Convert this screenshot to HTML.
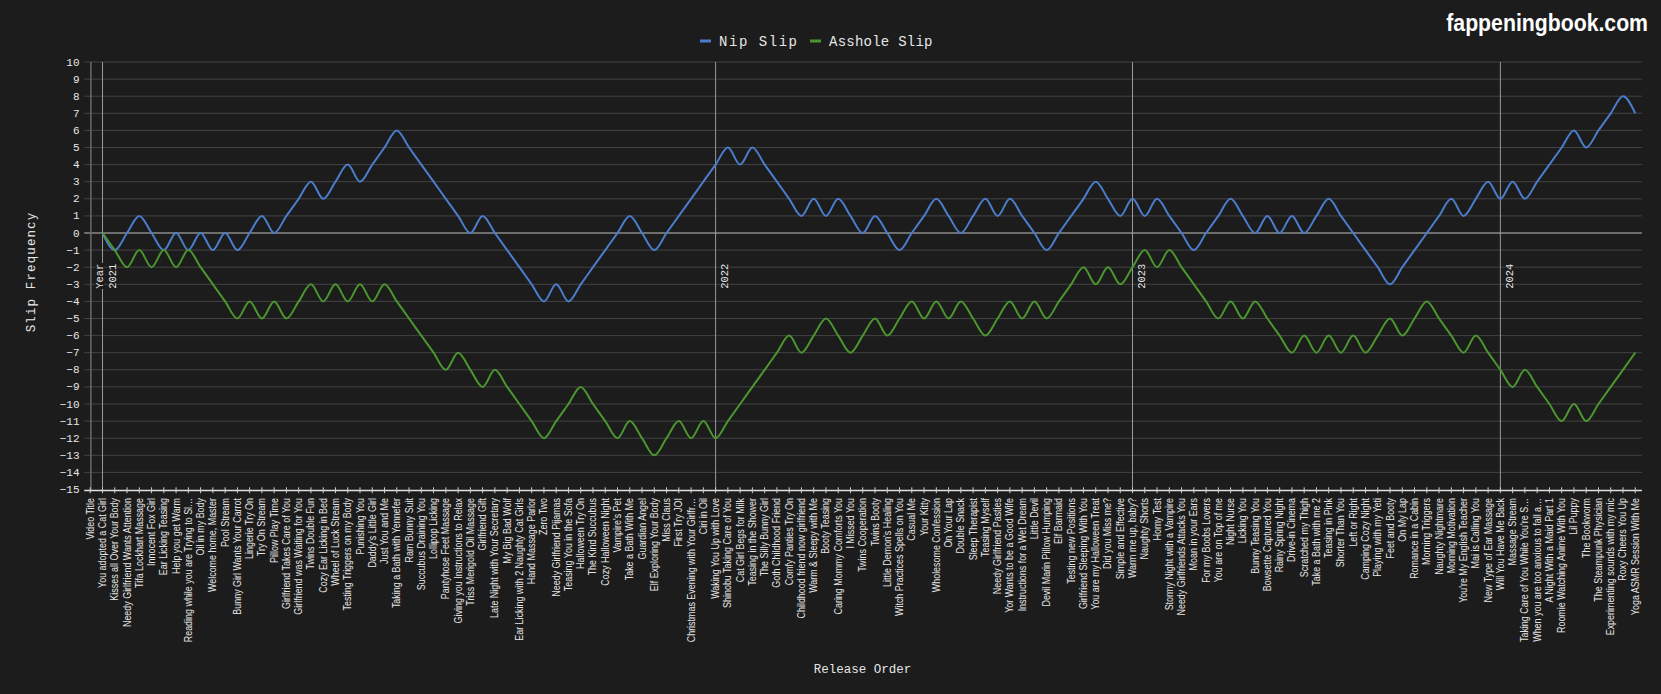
<!DOCTYPE html>
<html><head><meta charset="utf-8"><style>
html,body{margin:0;padding:0;background:#1c1c1c;}
body{width:1661px;height:694px;overflow:hidden;}
svg{display:block;}
.yl{font-family:"Liberation Mono",monospace;font-size:11px;fill:#e6e6e6;}
.yr{font-family:"Liberation Mono",monospace;font-size:10.4px;fill:#e6e6e6;stroke:#1c1c1c;stroke-width:2.5px;paint-order:stroke;}
.xl{font-family:"Liberation Sans",sans-serif;font-size:10px;fill:#e6e6e6;}
.at{font-family:"Liberation Mono",monospace;font-size:13px;fill:#e6e6e6;}
.lg{font-family:"Liberation Mono",monospace;font-size:14px;fill:#e6e6e6;}
.wm{font-family:"Liberation Sans",sans-serif;font-size:23px;font-weight:bold;fill:#ffffff;}
</style></head><body><svg width="1661" height="694" viewBox="0 0 1661 694">
<rect x="0" y="0" width="1661" height="694" fill="#1c1c1c"/>
<line x1="84.2" x2="1641.9" y1="472.40" y2="472.40" stroke="#434343" stroke-width="1"/>
<line x1="84.2" x2="1641.9" y1="455.30" y2="455.30" stroke="#434343" stroke-width="1"/>
<line x1="84.2" x2="1641.9" y1="438.20" y2="438.20" stroke="#434343" stroke-width="1"/>
<line x1="84.2" x2="1641.9" y1="421.10" y2="421.10" stroke="#434343" stroke-width="1"/>
<line x1="84.2" x2="1641.9" y1="404.00" y2="404.00" stroke="#434343" stroke-width="1"/>
<line x1="84.2" x2="1641.9" y1="386.90" y2="386.90" stroke="#434343" stroke-width="1"/>
<line x1="84.2" x2="1641.9" y1="369.80" y2="369.80" stroke="#434343" stroke-width="1"/>
<line x1="84.2" x2="1641.9" y1="352.70" y2="352.70" stroke="#434343" stroke-width="1"/>
<line x1="84.2" x2="1641.9" y1="335.60" y2="335.60" stroke="#434343" stroke-width="1"/>
<line x1="84.2" x2="1641.9" y1="318.50" y2="318.50" stroke="#434343" stroke-width="1"/>
<line x1="84.2" x2="1641.9" y1="301.40" y2="301.40" stroke="#434343" stroke-width="1"/>
<line x1="84.2" x2="1641.9" y1="284.30" y2="284.30" stroke="#434343" stroke-width="1"/>
<line x1="84.2" x2="1641.9" y1="267.20" y2="267.20" stroke="#434343" stroke-width="1"/>
<line x1="84.2" x2="1641.9" y1="250.10" y2="250.10" stroke="#434343" stroke-width="1"/>
<line x1="84.2" x2="1641.9" y1="233.00" y2="233.00" stroke="#8a8a8a" stroke-width="1.5"/>
<line x1="84.2" x2="1641.9" y1="215.90" y2="215.90" stroke="#434343" stroke-width="1"/>
<line x1="84.2" x2="1641.9" y1="198.80" y2="198.80" stroke="#434343" stroke-width="1"/>
<line x1="84.2" x2="1641.9" y1="181.70" y2="181.70" stroke="#434343" stroke-width="1"/>
<line x1="84.2" x2="1641.9" y1="164.60" y2="164.60" stroke="#434343" stroke-width="1"/>
<line x1="84.2" x2="1641.9" y1="147.50" y2="147.50" stroke="#434343" stroke-width="1"/>
<line x1="84.2" x2="1641.9" y1="130.40" y2="130.40" stroke="#434343" stroke-width="1"/>
<line x1="84.2" x2="1641.9" y1="113.30" y2="113.30" stroke="#434343" stroke-width="1"/>
<line x1="84.2" x2="1641.9" y1="96.20" y2="96.20" stroke="#434343" stroke-width="1"/>
<line x1="84.2" x2="1641.9" y1="79.10" y2="79.10" stroke="#434343" stroke-width="1"/>
<line x1="84.2" x2="1641.9" y1="62.00" y2="62.00" stroke="#434343" stroke-width="1"/>
<text x="79.5" y="489.50" dy="0.32em" text-anchor="end" class="yl">−15</text>
<text x="79.5" y="472.40" dy="0.32em" text-anchor="end" class="yl">−14</text>
<text x="79.5" y="455.30" dy="0.32em" text-anchor="end" class="yl">−13</text>
<text x="79.5" y="438.20" dy="0.32em" text-anchor="end" class="yl">−12</text>
<text x="79.5" y="421.10" dy="0.32em" text-anchor="end" class="yl">−11</text>
<text x="79.5" y="404.00" dy="0.32em" text-anchor="end" class="yl">−10</text>
<text x="79.5" y="386.90" dy="0.32em" text-anchor="end" class="yl">−9</text>
<text x="79.5" y="369.80" dy="0.32em" text-anchor="end" class="yl">−8</text>
<text x="79.5" y="352.70" dy="0.32em" text-anchor="end" class="yl">−7</text>
<text x="79.5" y="335.60" dy="0.32em" text-anchor="end" class="yl">−6</text>
<text x="79.5" y="318.50" dy="0.32em" text-anchor="end" class="yl">−5</text>
<text x="79.5" y="301.40" dy="0.32em" text-anchor="end" class="yl">−4</text>
<text x="79.5" y="284.30" dy="0.32em" text-anchor="end" class="yl">−3</text>
<text x="79.5" y="267.20" dy="0.32em" text-anchor="end" class="yl">−2</text>
<text x="79.5" y="250.10" dy="0.32em" text-anchor="end" class="yl">−1</text>
<text x="79.5" y="233.00" dy="0.32em" text-anchor="end" class="yl">0</text>
<text x="79.5" y="215.90" dy="0.32em" text-anchor="end" class="yl">1</text>
<text x="79.5" y="198.80" dy="0.32em" text-anchor="end" class="yl">2</text>
<text x="79.5" y="181.70" dy="0.32em" text-anchor="end" class="yl">3</text>
<text x="79.5" y="164.60" dy="0.32em" text-anchor="end" class="yl">4</text>
<text x="79.5" y="147.50" dy="0.32em" text-anchor="end" class="yl">5</text>
<text x="79.5" y="130.40" dy="0.32em" text-anchor="end" class="yl">6</text>
<text x="79.5" y="113.30" dy="0.32em" text-anchor="end" class="yl">7</text>
<text x="79.5" y="96.20" dy="0.32em" text-anchor="end" class="yl">8</text>
<text x="79.5" y="79.10" dy="0.32em" text-anchor="end" class="yl">9</text>
<text x="79.5" y="62.00" dy="0.32em" text-anchor="end" class="yl">10</text>
<line x1="90.9" x2="90.9" y1="62.0" y2="490.4" stroke="#6a6a6a" stroke-width="1.5"/>
<line x1="102.50" x2="102.50" y1="62.0" y2="490.4" stroke="#9a9a9a" stroke-width="1"/>
<line x1="715.60" x2="715.60" y1="62.0" y2="490.4" stroke="#9a9a9a" stroke-width="1"/>
<line x1="1132.51" x2="1132.51" y1="62.0" y2="490.4" stroke="#9a9a9a" stroke-width="1"/>
<line x1="1500.37" x2="1500.37" y1="62.0" y2="490.4" stroke="#9a9a9a" stroke-width="1"/>
<path d="M102.50,233.00C106.59,241.55,110.67,250.10,114.76,250.10C118.85,250.10,122.94,238.70,127.02,233.00C131.11,227.30,135.20,215.90,139.29,215.90C143.37,215.90,147.46,227.30,151.55,233.00C155.64,238.70,159.72,250.10,163.81,250.10C167.90,250.10,171.98,233.00,176.07,233.00C180.16,233.00,184.25,250.10,188.33,250.10C192.42,250.10,196.51,233.00,200.60,233.00C204.68,233.00,208.77,250.10,212.86,250.10C216.95,250.10,221.03,233.00,225.12,233.00C229.21,233.00,233.29,250.10,237.38,250.10C241.47,250.10,245.56,238.70,249.64,233.00C253.73,227.30,257.82,215.90,261.91,215.90C265.99,215.90,270.08,233.00,274.17,233.00C278.26,233.00,282.34,221.60,286.43,215.90C290.52,210.20,294.60,204.50,298.69,198.80C302.78,193.10,306.87,181.70,310.95,181.70C315.04,181.70,319.13,198.80,323.22,198.80C327.30,198.80,331.39,187.40,335.48,181.70C339.57,176.00,343.65,164.60,347.74,164.60C351.83,164.60,355.91,181.70,360.00,181.70C364.09,181.70,368.18,170.30,372.26,164.60C376.35,158.90,380.44,153.20,384.53,147.50C388.61,141.80,392.70,130.40,396.79,130.40C400.88,130.40,404.96,141.80,409.05,147.50C413.14,153.20,417.22,158.90,421.31,164.60C425.40,170.30,429.49,176.00,433.57,181.70C437.66,187.40,441.75,193.10,445.84,198.80C449.92,204.50,454.01,210.20,458.10,215.90C462.19,221.60,466.27,233.00,470.36,233.00C474.45,233.00,478.53,215.90,482.62,215.90C486.71,215.90,490.80,227.30,494.88,233.00C498.97,238.70,503.06,244.40,507.15,250.10C511.23,255.80,515.32,261.50,519.41,267.20C523.50,272.90,527.58,278.60,531.67,284.30C535.76,290.00,539.84,301.40,543.93,301.40C548.02,301.40,552.11,284.30,556.19,284.30C560.28,284.30,564.37,301.40,568.46,301.40C572.54,301.40,576.63,290.00,580.72,284.30C584.81,278.60,588.89,272.90,592.98,267.20C597.07,261.50,601.15,255.80,605.24,250.10C609.33,244.40,613.42,238.70,617.50,233.00C621.59,227.30,625.68,215.90,629.77,215.90C633.85,215.90,637.94,227.30,642.03,233.00C646.12,238.70,650.20,250.10,654.29,250.10C658.38,250.10,662.46,238.70,666.55,233.00C670.64,227.30,674.73,221.60,678.81,215.90C682.90,210.20,686.99,204.50,691.08,198.80C695.16,193.10,699.25,187.40,703.34,181.70C707.43,176.00,711.51,170.30,715.60,164.60C719.69,158.90,723.77,147.50,727.86,147.50C731.95,147.50,736.04,164.60,740.12,164.60C744.21,164.60,748.30,147.50,752.39,147.50C756.47,147.50,760.56,158.90,764.65,164.60C768.74,170.30,772.82,176.00,776.91,181.70C781.00,187.40,785.08,193.10,789.17,198.80C793.26,204.50,797.35,215.90,801.43,215.90C805.52,215.90,809.61,198.80,813.70,198.80C817.78,198.80,821.87,215.90,825.96,215.90C830.05,215.90,834.13,198.80,838.22,198.80C842.31,198.80,846.39,210.20,850.48,215.90C854.57,221.60,858.66,233.00,862.74,233.00C866.83,233.00,870.92,215.90,875.01,215.90C879.09,215.90,883.18,227.30,887.27,233.00C891.36,238.70,895.44,250.10,899.53,250.10C903.62,250.10,907.70,238.70,911.79,233.00C915.88,227.30,919.97,221.60,924.05,215.90C928.14,210.20,932.23,198.80,936.32,198.80C940.40,198.80,944.49,210.20,948.58,215.90C952.67,221.60,956.75,233.00,960.84,233.00C964.93,233.00,969.01,221.60,973.10,215.90C977.19,210.20,981.28,198.80,985.36,198.80C989.45,198.80,993.54,215.90,997.63,215.90C1001.71,215.90,1005.80,198.80,1009.89,198.80C1013.98,198.80,1018.06,210.20,1022.15,215.90C1026.24,221.60,1030.32,227.30,1034.41,233.00C1038.50,238.70,1042.59,250.10,1046.67,250.10C1050.76,250.10,1054.85,238.70,1058.94,233.00C1063.02,227.30,1067.11,221.60,1071.20,215.90C1075.29,210.20,1079.37,204.50,1083.46,198.80C1087.55,193.10,1091.63,181.70,1095.72,181.70C1099.81,181.70,1103.90,193.10,1107.98,198.80C1112.07,204.50,1116.16,215.90,1120.25,215.90C1124.33,215.90,1128.42,198.80,1132.51,198.80C1136.60,198.80,1140.68,215.90,1144.77,215.90C1148.86,215.90,1152.94,198.80,1157.03,198.80C1161.12,198.80,1165.21,210.20,1169.29,215.90C1173.38,221.60,1177.47,227.30,1181.56,233.00C1185.64,238.70,1189.73,250.10,1193.82,250.10C1197.91,250.10,1201.99,238.70,1206.08,233.00C1210.17,227.30,1214.25,221.60,1218.34,215.90C1222.43,210.20,1226.52,198.80,1230.60,198.80C1234.69,198.80,1238.78,210.20,1242.87,215.90C1246.95,221.60,1251.04,233.00,1255.13,233.00C1259.22,233.00,1263.30,215.90,1267.39,215.90C1271.48,215.90,1275.56,233.00,1279.65,233.00C1283.74,233.00,1287.83,215.90,1291.91,215.90C1296.00,215.90,1300.09,233.00,1304.18,233.00C1308.26,233.00,1312.35,221.60,1316.44,215.90C1320.53,210.20,1324.61,198.80,1328.70,198.80C1332.79,198.80,1336.87,210.20,1340.96,215.90C1345.05,221.60,1349.14,227.30,1353.22,233.00C1357.31,238.70,1361.40,244.40,1365.49,250.10C1369.57,255.80,1373.66,261.50,1377.75,267.20C1381.84,272.90,1385.92,284.30,1390.01,284.30C1394.10,284.30,1398.18,272.90,1402.27,267.20C1406.36,261.50,1410.45,255.80,1414.53,250.10C1418.62,244.40,1422.71,238.70,1426.80,233.00C1430.88,227.30,1434.97,221.60,1439.06,215.90C1443.15,210.20,1447.23,198.80,1451.32,198.80C1455.41,198.80,1459.49,215.90,1463.58,215.90C1467.67,215.90,1471.76,204.50,1475.84,198.80C1479.93,193.10,1484.02,181.70,1488.11,181.70C1492.19,181.70,1496.28,198.80,1500.37,198.80C1504.46,198.80,1508.54,181.70,1512.63,181.70C1516.72,181.70,1520.80,198.80,1524.89,198.80C1528.98,198.80,1533.07,187.40,1537.15,181.70C1541.24,176.00,1545.33,170.30,1549.42,164.60C1553.50,158.90,1557.59,153.20,1561.68,147.50C1565.77,141.80,1569.85,130.40,1573.94,130.40C1578.03,130.40,1582.11,147.50,1586.20,147.50C1590.29,147.50,1594.38,136.10,1598.46,130.40C1602.55,124.70,1606.64,119.00,1610.73,113.30C1614.81,107.60,1618.90,96.20,1622.99,96.20C1627.08,96.20,1631.16,104.75,1635.25,113.30" fill="none" stroke="#4a7dcb" stroke-width="2"/>
<path d="M102.50,233.00C106.59,238.70,110.67,244.40,114.76,250.10C118.85,255.80,122.94,267.20,127.02,267.20C131.11,267.20,135.20,250.10,139.29,250.10C143.37,250.10,147.46,267.20,151.55,267.20C155.64,267.20,159.72,250.10,163.81,250.10C167.90,250.10,171.98,267.20,176.07,267.20C180.16,267.20,184.25,250.10,188.33,250.10C192.42,250.10,196.51,261.50,200.60,267.20C204.68,272.90,208.77,278.60,212.86,284.30C216.95,290.00,221.03,295.70,225.12,301.40C229.21,307.10,233.29,318.50,237.38,318.50C241.47,318.50,245.56,301.40,249.64,301.40C253.73,301.40,257.82,318.50,261.91,318.50C265.99,318.50,270.08,301.40,274.17,301.40C278.26,301.40,282.34,318.50,286.43,318.50C290.52,318.50,294.60,307.10,298.69,301.40C302.78,295.70,306.87,284.30,310.95,284.30C315.04,284.30,319.13,301.40,323.22,301.40C327.30,301.40,331.39,284.30,335.48,284.30C339.57,284.30,343.65,301.40,347.74,301.40C351.83,301.40,355.91,284.30,360.00,284.30C364.09,284.30,368.18,301.40,372.26,301.40C376.35,301.40,380.44,284.30,384.53,284.30C388.61,284.30,392.70,295.70,396.79,301.40C400.88,307.10,404.96,312.80,409.05,318.50C413.14,324.20,417.22,329.90,421.31,335.60C425.40,341.30,429.49,347.00,433.57,352.70C437.66,358.40,441.75,369.80,445.84,369.80C449.92,369.80,454.01,352.70,458.10,352.70C462.19,352.70,466.27,364.10,470.36,369.80C474.45,375.50,478.53,386.90,482.62,386.90C486.71,386.90,490.80,369.80,494.88,369.80C498.97,369.80,503.06,381.20,507.15,386.90C511.23,392.60,515.32,398.30,519.41,404.00C523.50,409.70,527.58,415.40,531.67,421.10C535.76,426.80,539.84,438.20,543.93,438.20C548.02,438.20,552.11,426.80,556.19,421.10C560.28,415.40,564.37,409.70,568.46,404.00C572.54,398.30,576.63,386.90,580.72,386.90C584.81,386.90,588.89,398.30,592.98,404.00C597.07,409.70,601.15,415.40,605.24,421.10C609.33,426.80,613.42,438.20,617.50,438.20C621.59,438.20,625.68,421.10,629.77,421.10C633.85,421.10,637.94,432.50,642.03,438.20C646.12,443.90,650.20,455.30,654.29,455.30C658.38,455.30,662.46,443.90,666.55,438.20C670.64,432.50,674.73,421.10,678.81,421.10C682.90,421.10,686.99,438.20,691.08,438.20C695.16,438.20,699.25,421.10,703.34,421.10C707.43,421.10,711.51,438.20,715.60,438.20C719.69,438.20,723.77,426.80,727.86,421.10C731.95,415.40,736.04,409.70,740.12,404.00C744.21,398.30,748.30,392.60,752.39,386.90C756.47,381.20,760.56,375.50,764.65,369.80C768.74,364.10,772.82,358.40,776.91,352.70C781.00,347.00,785.08,335.60,789.17,335.60C793.26,335.60,797.35,352.70,801.43,352.70C805.52,352.70,809.61,341.30,813.70,335.60C817.78,329.90,821.87,318.50,825.96,318.50C830.05,318.50,834.13,329.90,838.22,335.60C842.31,341.30,846.39,352.70,850.48,352.70C854.57,352.70,858.66,341.30,862.74,335.60C866.83,329.90,870.92,318.50,875.01,318.50C879.09,318.50,883.18,335.60,887.27,335.60C891.36,335.60,895.44,324.20,899.53,318.50C903.62,312.80,907.70,301.40,911.79,301.40C915.88,301.40,919.97,318.50,924.05,318.50C928.14,318.50,932.23,301.40,936.32,301.40C940.40,301.40,944.49,318.50,948.58,318.50C952.67,318.50,956.75,301.40,960.84,301.40C964.93,301.40,969.01,312.80,973.10,318.50C977.19,324.20,981.28,335.60,985.36,335.60C989.45,335.60,993.54,324.20,997.63,318.50C1001.71,312.80,1005.80,301.40,1009.89,301.40C1013.98,301.40,1018.06,318.50,1022.15,318.50C1026.24,318.50,1030.32,301.40,1034.41,301.40C1038.50,301.40,1042.59,318.50,1046.67,318.50C1050.76,318.50,1054.85,307.10,1058.94,301.40C1063.02,295.70,1067.11,290.00,1071.20,284.30C1075.29,278.60,1079.37,267.20,1083.46,267.20C1087.55,267.20,1091.63,284.30,1095.72,284.30C1099.81,284.30,1103.90,267.20,1107.98,267.20C1112.07,267.20,1116.16,284.30,1120.25,284.30C1124.33,284.30,1128.42,272.90,1132.51,267.20C1136.60,261.50,1140.68,250.10,1144.77,250.10C1148.86,250.10,1152.94,267.20,1157.03,267.20C1161.12,267.20,1165.21,250.10,1169.29,250.10C1173.38,250.10,1177.47,261.50,1181.56,267.20C1185.64,272.90,1189.73,278.60,1193.82,284.30C1197.91,290.00,1201.99,295.70,1206.08,301.40C1210.17,307.10,1214.25,318.50,1218.34,318.50C1222.43,318.50,1226.52,301.40,1230.60,301.40C1234.69,301.40,1238.78,318.50,1242.87,318.50C1246.95,318.50,1251.04,301.40,1255.13,301.40C1259.22,301.40,1263.30,312.80,1267.39,318.50C1271.48,324.20,1275.56,329.90,1279.65,335.60C1283.74,341.30,1287.83,352.70,1291.91,352.70C1296.00,352.70,1300.09,335.60,1304.18,335.60C1308.26,335.60,1312.35,352.70,1316.44,352.70C1320.53,352.70,1324.61,335.60,1328.70,335.60C1332.79,335.60,1336.87,352.70,1340.96,352.70C1345.05,352.70,1349.14,335.60,1353.22,335.60C1357.31,335.60,1361.40,352.70,1365.49,352.70C1369.57,352.70,1373.66,341.30,1377.75,335.60C1381.84,329.90,1385.92,318.50,1390.01,318.50C1394.10,318.50,1398.18,335.60,1402.27,335.60C1406.36,335.60,1410.45,324.20,1414.53,318.50C1418.62,312.80,1422.71,301.40,1426.80,301.40C1430.88,301.40,1434.97,312.80,1439.06,318.50C1443.15,324.20,1447.23,329.90,1451.32,335.60C1455.41,341.30,1459.49,352.70,1463.58,352.70C1467.67,352.70,1471.76,335.60,1475.84,335.60C1479.93,335.60,1484.02,347.00,1488.11,352.70C1492.19,358.40,1496.28,364.10,1500.37,369.80C1504.46,375.50,1508.54,386.90,1512.63,386.90C1516.72,386.90,1520.80,369.80,1524.89,369.80C1528.98,369.80,1533.07,381.20,1537.15,386.90C1541.24,392.60,1545.33,398.30,1549.42,404.00C1553.50,409.70,1557.59,421.10,1561.68,421.10C1565.77,421.10,1569.85,404.00,1573.94,404.00C1578.03,404.00,1582.11,421.10,1586.20,421.10C1590.29,421.10,1594.38,409.70,1598.46,404.00C1602.55,398.30,1606.64,392.60,1610.73,386.90C1614.81,381.20,1618.90,375.50,1622.99,369.80C1627.08,364.10,1631.16,358.40,1635.25,352.70" fill="none" stroke="#4b962e" stroke-width="2"/>
<rect x="101.30" y="263" width="2.4" height="26" fill="#1c1c1c"/>
<text transform="translate(102.80,263.8) rotate(-90)" text-anchor="end" class="yr">Year</text>
<text transform="translate(116.30,263.8) rotate(-90)" text-anchor="end" class="yr">2021</text>
<text transform="translate(727.90,263.8) rotate(-90)" text-anchor="end" class="yr">2022</text>
<text transform="translate(1144.81,263.8) rotate(-90)" text-anchor="end" class="yr">2023</text>
<text transform="translate(1512.67,263.8) rotate(-90)" text-anchor="end" class="yr">2024</text>
<line x1="84.2" x2="1641.9" y1="490.4" y2="490.4" stroke="#e0e0e0" stroke-width="1.5"/>
<line x1="90.24" x2="90.24" y1="487.3" y2="493.2" stroke="#d0d0d0" stroke-width="1"/>
<text transform="translate(93.74,498) rotate(-90) scale(0.893,1)" text-anchor="end" class="xl">Video Title</text>
<line x1="102.50" x2="102.50" y1="487.3" y2="493.2" stroke="#d0d0d0" stroke-width="1"/>
<text transform="translate(106.00,498) rotate(-90) scale(0.893,1)" text-anchor="end" class="xl">You adopted a Cat Girl</text>
<line x1="114.76" x2="114.76" y1="487.3" y2="493.2" stroke="#d0d0d0" stroke-width="1"/>
<text transform="translate(118.26,498) rotate(-90) scale(0.893,1)" text-anchor="end" class="xl">Kisses all Over Your Body</text>
<line x1="127.02" x2="127.02" y1="487.3" y2="493.2" stroke="#d0d0d0" stroke-width="1"/>
<text transform="translate(130.52,498) rotate(-90) scale(0.893,1)" text-anchor="end" class="xl">Needy Girlfriend Wants Attention</text>
<line x1="139.29" x2="139.29" y1="487.3" y2="493.2" stroke="#d0d0d0" stroke-width="1"/>
<text transform="translate(142.79,498) rotate(-90) scale(0.893,1)" text-anchor="end" class="xl">Tifa Lockhart Massage</text>
<line x1="151.55" x2="151.55" y1="487.3" y2="493.2" stroke="#d0d0d0" stroke-width="1"/>
<text transform="translate(155.05,498) rotate(-90) scale(0.893,1)" text-anchor="end" class="xl">Innocent Fox Girl</text>
<line x1="163.81" x2="163.81" y1="487.3" y2="493.2" stroke="#d0d0d0" stroke-width="1"/>
<text transform="translate(167.31,498) rotate(-90) scale(0.893,1)" text-anchor="end" class="xl">Ear Licking Teasing</text>
<line x1="176.07" x2="176.07" y1="487.3" y2="493.2" stroke="#d0d0d0" stroke-width="1"/>
<text transform="translate(179.57,498) rotate(-90) scale(0.893,1)" text-anchor="end" class="xl">Help you get Warm</text>
<line x1="188.33" x2="188.33" y1="487.3" y2="493.2" stroke="#d0d0d0" stroke-width="1"/>
<text transform="translate(191.83,498) rotate(-90) scale(0.893,1)" text-anchor="end" class="xl">Reading while you are Trying to Sl…</text>
<line x1="200.60" x2="200.60" y1="487.3" y2="493.2" stroke="#d0d0d0" stroke-width="1"/>
<text transform="translate(204.10,498) rotate(-90) scale(0.893,1)" text-anchor="end" class="xl">Oil in my Body</text>
<line x1="212.86" x2="212.86" y1="487.3" y2="493.2" stroke="#d0d0d0" stroke-width="1"/>
<text transform="translate(216.36,498) rotate(-90) scale(0.893,1)" text-anchor="end" class="xl">Welcome home, Master</text>
<line x1="225.12" x2="225.12" y1="487.3" y2="493.2" stroke="#d0d0d0" stroke-width="1"/>
<text transform="translate(228.62,498) rotate(-90) scale(0.893,1)" text-anchor="end" class="xl">Pool Stream</text>
<line x1="237.38" x2="237.38" y1="487.3" y2="493.2" stroke="#d0d0d0" stroke-width="1"/>
<text transform="translate(240.88,498) rotate(-90) scale(0.893,1)" text-anchor="end" class="xl">Bunny Girl Wants Your Carrot</text>
<line x1="249.64" x2="249.64" y1="487.3" y2="493.2" stroke="#d0d0d0" stroke-width="1"/>
<text transform="translate(253.14,498) rotate(-90) scale(0.893,1)" text-anchor="end" class="xl">Lingerie Try On</text>
<line x1="261.91" x2="261.91" y1="487.3" y2="493.2" stroke="#d0d0d0" stroke-width="1"/>
<text transform="translate(265.41,498) rotate(-90) scale(0.893,1)" text-anchor="end" class="xl">Try On Stream</text>
<line x1="274.17" x2="274.17" y1="487.3" y2="493.2" stroke="#d0d0d0" stroke-width="1"/>
<text transform="translate(277.67,498) rotate(-90) scale(0.893,1)" text-anchor="end" class="xl">Pillow Play Time</text>
<line x1="286.43" x2="286.43" y1="487.3" y2="493.2" stroke="#d0d0d0" stroke-width="1"/>
<text transform="translate(289.93,498) rotate(-90) scale(0.893,1)" text-anchor="end" class="xl">Girlfriend Takes Care of You</text>
<line x1="298.69" x2="298.69" y1="487.3" y2="493.2" stroke="#d0d0d0" stroke-width="1"/>
<text transform="translate(302.19,498) rotate(-90) scale(0.893,1)" text-anchor="end" class="xl">Girlfriend was Waiting for You</text>
<line x1="310.95" x2="310.95" y1="487.3" y2="493.2" stroke="#d0d0d0" stroke-width="1"/>
<text transform="translate(314.45,498) rotate(-90) scale(0.893,1)" text-anchor="end" class="xl">Twins Double Fun</text>
<line x1="323.22" x2="323.22" y1="487.3" y2="493.2" stroke="#d0d0d0" stroke-width="1"/>
<text transform="translate(326.72,498) rotate(-90) scale(0.893,1)" text-anchor="end" class="xl">Cozy Ear Licking in Bed</text>
<line x1="335.48" x2="335.48" y1="487.3" y2="493.2" stroke="#d0d0d0" stroke-width="1"/>
<text transform="translate(338.98,498) rotate(-90) scale(0.893,1)" text-anchor="end" class="xl">Wheel of Luck Stream</text>
<line x1="347.74" x2="347.74" y1="487.3" y2="493.2" stroke="#d0d0d0" stroke-width="1"/>
<text transform="translate(351.24,498) rotate(-90) scale(0.893,1)" text-anchor="end" class="xl">Testing Triggers on my Body</text>
<line x1="360.00" x2="360.00" y1="487.3" y2="493.2" stroke="#d0d0d0" stroke-width="1"/>
<text transform="translate(363.50,498) rotate(-90) scale(0.893,1)" text-anchor="end" class="xl">Punishing You</text>
<line x1="372.26" x2="372.26" y1="487.3" y2="493.2" stroke="#d0d0d0" stroke-width="1"/>
<text transform="translate(375.76,498) rotate(-90) scale(0.893,1)" text-anchor="end" class="xl">Daddy's Little Girl</text>
<line x1="384.53" x2="384.53" y1="487.3" y2="493.2" stroke="#d0d0d0" stroke-width="1"/>
<text transform="translate(388.03,498) rotate(-90) scale(0.893,1)" text-anchor="end" class="xl">Just You and Me</text>
<line x1="396.79" x2="396.79" y1="487.3" y2="493.2" stroke="#d0d0d0" stroke-width="1"/>
<text transform="translate(400.29,498) rotate(-90) scale(0.893,1)" text-anchor="end" class="xl">Taking a Bath with Yennefer</text>
<line x1="409.05" x2="409.05" y1="487.3" y2="493.2" stroke="#d0d0d0" stroke-width="1"/>
<text transform="translate(412.55,498) rotate(-90) scale(0.893,1)" text-anchor="end" class="xl">Ram Bunny Suit</text>
<line x1="421.31" x2="421.31" y1="487.3" y2="493.2" stroke="#d0d0d0" stroke-width="1"/>
<text transform="translate(424.81,498) rotate(-90) scale(0.893,1)" text-anchor="end" class="xl">Succubus Draining You</text>
<line x1="433.57" x2="433.57" y1="487.3" y2="493.2" stroke="#d0d0d0" stroke-width="1"/>
<text transform="translate(437.07,498) rotate(-90) scale(0.893,1)" text-anchor="end" class="xl">Lollipop Licking</text>
<line x1="445.84" x2="445.84" y1="487.3" y2="493.2" stroke="#d0d0d0" stroke-width="1"/>
<text transform="translate(449.34,498) rotate(-90) scale(0.893,1)" text-anchor="end" class="xl">Pantyhose Feet Massage</text>
<line x1="458.10" x2="458.10" y1="487.3" y2="493.2" stroke="#d0d0d0" stroke-width="1"/>
<text transform="translate(461.60,498) rotate(-90) scale(0.893,1)" text-anchor="end" class="xl">Giving you Instructions to Relax</text>
<line x1="470.36" x2="470.36" y1="487.3" y2="493.2" stroke="#d0d0d0" stroke-width="1"/>
<text transform="translate(473.86,498) rotate(-90) scale(0.893,1)" text-anchor="end" class="xl">Triss Merigold Oil Massage</text>
<line x1="482.62" x2="482.62" y1="487.3" y2="493.2" stroke="#d0d0d0" stroke-width="1"/>
<text transform="translate(486.12,498) rotate(-90) scale(0.893,1)" text-anchor="end" class="xl">Girlfriend Gift</text>
<line x1="494.88" x2="494.88" y1="487.3" y2="493.2" stroke="#d0d0d0" stroke-width="1"/>
<text transform="translate(498.38,498) rotate(-90) scale(0.893,1)" text-anchor="end" class="xl">Late Night with Your Secretary</text>
<line x1="507.15" x2="507.15" y1="487.3" y2="493.2" stroke="#d0d0d0" stroke-width="1"/>
<text transform="translate(510.65,498) rotate(-90) scale(0.893,1)" text-anchor="end" class="xl">My Big Bad Wolf</text>
<line x1="519.41" x2="519.41" y1="487.3" y2="493.2" stroke="#d0d0d0" stroke-width="1"/>
<text transform="translate(522.91,498) rotate(-90) scale(0.893,1)" text-anchor="end" class="xl">Ear Licking with 2 Naughty Cat Girls</text>
<line x1="531.67" x2="531.67" y1="487.3" y2="493.2" stroke="#d0d0d0" stroke-width="1"/>
<text transform="translate(535.17,498) rotate(-90) scale(0.893,1)" text-anchor="end" class="xl">Hand Massage Parlor</text>
<line x1="543.93" x2="543.93" y1="487.3" y2="493.2" stroke="#d0d0d0" stroke-width="1"/>
<text transform="translate(547.43,498) rotate(-90) scale(0.893,1)" text-anchor="end" class="xl">Zero Two</text>
<line x1="556.19" x2="556.19" y1="487.3" y2="493.2" stroke="#d0d0d0" stroke-width="1"/>
<text transform="translate(559.69,498) rotate(-90) scale(0.893,1)" text-anchor="end" class="xl">Needy Girlfriend Pijamas</text>
<line x1="568.46" x2="568.46" y1="487.3" y2="493.2" stroke="#d0d0d0" stroke-width="1"/>
<text transform="translate(571.96,498) rotate(-90) scale(0.893,1)" text-anchor="end" class="xl">Teasing You in the Sofa</text>
<line x1="580.72" x2="580.72" y1="487.3" y2="493.2" stroke="#d0d0d0" stroke-width="1"/>
<text transform="translate(584.22,498) rotate(-90) scale(0.893,1)" text-anchor="end" class="xl">Halloween Try On</text>
<line x1="592.98" x2="592.98" y1="487.3" y2="493.2" stroke="#d0d0d0" stroke-width="1"/>
<text transform="translate(596.48,498) rotate(-90) scale(0.893,1)" text-anchor="end" class="xl">The Kind Succubus</text>
<line x1="605.24" x2="605.24" y1="487.3" y2="493.2" stroke="#d0d0d0" stroke-width="1"/>
<text transform="translate(608.74,498) rotate(-90) scale(0.893,1)" text-anchor="end" class="xl">Cozy Halloween Night</text>
<line x1="617.50" x2="617.50" y1="487.3" y2="493.2" stroke="#d0d0d0" stroke-width="1"/>
<text transform="translate(621.00,498) rotate(-90) scale(0.893,1)" text-anchor="end" class="xl">Vampire's Pet</text>
<line x1="629.77" x2="629.77" y1="487.3" y2="493.2" stroke="#d0d0d0" stroke-width="1"/>
<text transform="translate(633.27,498) rotate(-90) scale(0.893,1)" text-anchor="end" class="xl">Take a Bath With Me</text>
<line x1="642.03" x2="642.03" y1="487.3" y2="493.2" stroke="#d0d0d0" stroke-width="1"/>
<text transform="translate(645.53,498) rotate(-90) scale(0.893,1)" text-anchor="end" class="xl">Guardian Angel</text>
<line x1="654.29" x2="654.29" y1="487.3" y2="493.2" stroke="#d0d0d0" stroke-width="1"/>
<text transform="translate(657.79,498) rotate(-90) scale(0.893,1)" text-anchor="end" class="xl">Elf Exploring Your Body</text>
<line x1="666.55" x2="666.55" y1="487.3" y2="493.2" stroke="#d0d0d0" stroke-width="1"/>
<text transform="translate(670.05,498) rotate(-90) scale(0.893,1)" text-anchor="end" class="xl">Miss Claus</text>
<line x1="678.81" x2="678.81" y1="487.3" y2="493.2" stroke="#d0d0d0" stroke-width="1"/>
<text transform="translate(682.31,498) rotate(-90) scale(0.893,1)" text-anchor="end" class="xl">First Try JOI</text>
<line x1="691.08" x2="691.08" y1="487.3" y2="493.2" stroke="#d0d0d0" stroke-width="1"/>
<text transform="translate(694.58,498) rotate(-90) scale(0.893,1)" text-anchor="end" class="xl">Christmas Evening with Your Girlfr…</text>
<line x1="703.34" x2="703.34" y1="487.3" y2="493.2" stroke="#d0d0d0" stroke-width="1"/>
<text transform="translate(706.84,498) rotate(-90) scale(0.893,1)" text-anchor="end" class="xl">Ciri in Oil</text>
<line x1="715.60" x2="715.60" y1="487.3" y2="493.2" stroke="#d0d0d0" stroke-width="1"/>
<text transform="translate(719.10,498) rotate(-90) scale(0.893,1)" text-anchor="end" class="xl">Waking You Up with Love</text>
<line x1="727.86" x2="727.86" y1="487.3" y2="493.2" stroke="#d0d0d0" stroke-width="1"/>
<text transform="translate(731.36,498) rotate(-90) scale(0.893,1)" text-anchor="end" class="xl">Shinobu Taking Care of You</text>
<line x1="740.12" x2="740.12" y1="487.3" y2="493.2" stroke="#d0d0d0" stroke-width="1"/>
<text transform="translate(743.62,498) rotate(-90) scale(0.893,1)" text-anchor="end" class="xl">Cat Girl Begs for Milk</text>
<line x1="752.39" x2="752.39" y1="487.3" y2="493.2" stroke="#d0d0d0" stroke-width="1"/>
<text transform="translate(755.89,498) rotate(-90) scale(0.893,1)" text-anchor="end" class="xl">Teasing in the Shower</text>
<line x1="764.65" x2="764.65" y1="487.3" y2="493.2" stroke="#d0d0d0" stroke-width="1"/>
<text transform="translate(768.15,498) rotate(-90) scale(0.893,1)" text-anchor="end" class="xl">The Silly Bunny Girl</text>
<line x1="776.91" x2="776.91" y1="487.3" y2="493.2" stroke="#d0d0d0" stroke-width="1"/>
<text transform="translate(780.41,498) rotate(-90) scale(0.893,1)" text-anchor="end" class="xl">Goth Childhood Friend</text>
<line x1="789.17" x2="789.17" y1="487.3" y2="493.2" stroke="#d0d0d0" stroke-width="1"/>
<text transform="translate(792.67,498) rotate(-90) scale(0.893,1)" text-anchor="end" class="xl">Comfy Panties Try On</text>
<line x1="801.43" x2="801.43" y1="487.3" y2="493.2" stroke="#d0d0d0" stroke-width="1"/>
<text transform="translate(804.93,498) rotate(-90) scale(0.893,1)" text-anchor="end" class="xl">Childhood friend now girlfriend</text>
<line x1="813.70" x2="813.70" y1="487.3" y2="493.2" stroke="#d0d0d0" stroke-width="1"/>
<text transform="translate(817.20,498) rotate(-90) scale(0.893,1)" text-anchor="end" class="xl">Warm &amp; Sleepy with Me</text>
<line x1="825.96" x2="825.96" y1="487.3" y2="493.2" stroke="#d0d0d0" stroke-width="1"/>
<text transform="translate(829.46,498) rotate(-90) scale(0.893,1)" text-anchor="end" class="xl">Booty Teasing</text>
<line x1="838.22" x2="838.22" y1="487.3" y2="493.2" stroke="#d0d0d0" stroke-width="1"/>
<text transform="translate(841.72,498) rotate(-90) scale(0.893,1)" text-anchor="end" class="xl">Caring Mommy Comforts You</text>
<line x1="850.48" x2="850.48" y1="487.3" y2="493.2" stroke="#d0d0d0" stroke-width="1"/>
<text transform="translate(853.98,498) rotate(-90) scale(0.893,1)" text-anchor="end" class="xl">I Missed You</text>
<line x1="862.74" x2="862.74" y1="487.3" y2="493.2" stroke="#d0d0d0" stroke-width="1"/>
<text transform="translate(866.24,498) rotate(-90) scale(0.893,1)" text-anchor="end" class="xl">Twins Cooperation</text>
<line x1="875.01" x2="875.01" y1="487.3" y2="493.2" stroke="#d0d0d0" stroke-width="1"/>
<text transform="translate(878.51,498) rotate(-90) scale(0.893,1)" text-anchor="end" class="xl">Twins Booty</text>
<line x1="887.27" x2="887.27" y1="487.3" y2="493.2" stroke="#d0d0d0" stroke-width="1"/>
<text transform="translate(890.77,498) rotate(-90) scale(0.893,1)" text-anchor="end" class="xl">Little Demon's Healing</text>
<line x1="899.53" x2="899.53" y1="487.3" y2="493.2" stroke="#d0d0d0" stroke-width="1"/>
<text transform="translate(903.03,498) rotate(-90) scale(0.893,1)" text-anchor="end" class="xl">Witch Practices Spells on You</text>
<line x1="911.79" x2="911.79" y1="487.3" y2="493.2" stroke="#d0d0d0" stroke-width="1"/>
<text transform="translate(915.29,498) rotate(-90) scale(0.893,1)" text-anchor="end" class="xl">Casual Me</text>
<line x1="924.05" x2="924.05" y1="487.3" y2="493.2" stroke="#d0d0d0" stroke-width="1"/>
<text transform="translate(927.55,498) rotate(-90) scale(0.893,1)" text-anchor="end" class="xl">Your Kitty</text>
<line x1="936.32" x2="936.32" y1="487.3" y2="493.2" stroke="#d0d0d0" stroke-width="1"/>
<text transform="translate(939.82,498) rotate(-90) scale(0.893,1)" text-anchor="end" class="xl">Wholesome Confession</text>
<line x1="948.58" x2="948.58" y1="487.3" y2="493.2" stroke="#d0d0d0" stroke-width="1"/>
<text transform="translate(952.08,498) rotate(-90) scale(0.893,1)" text-anchor="end" class="xl">On Your Lap</text>
<line x1="960.84" x2="960.84" y1="487.3" y2="493.2" stroke="#d0d0d0" stroke-width="1"/>
<text transform="translate(964.34,498) rotate(-90) scale(0.893,1)" text-anchor="end" class="xl">Double Snack</text>
<line x1="973.10" x2="973.10" y1="487.3" y2="493.2" stroke="#d0d0d0" stroke-width="1"/>
<text transform="translate(976.60,498) rotate(-90) scale(0.893,1)" text-anchor="end" class="xl">Sleep Therapist</text>
<line x1="985.36" x2="985.36" y1="487.3" y2="493.2" stroke="#d0d0d0" stroke-width="1"/>
<text transform="translate(988.86,498) rotate(-90) scale(0.893,1)" text-anchor="end" class="xl">Teasing Myself</text>
<line x1="997.63" x2="997.63" y1="487.3" y2="493.2" stroke="#d0d0d0" stroke-width="1"/>
<text transform="translate(1001.13,498) rotate(-90) scale(0.893,1)" text-anchor="end" class="xl">Needy Girlfriend Pasties</text>
<line x1="1009.89" x2="1009.89" y1="487.3" y2="493.2" stroke="#d0d0d0" stroke-width="1"/>
<text transform="translate(1013.39,498) rotate(-90) scale(0.893,1)" text-anchor="end" class="xl">Yor Wants to be a Good Wife</text>
<line x1="1022.15" x2="1022.15" y1="487.3" y2="493.2" stroke="#d0d0d0" stroke-width="1"/>
<text transform="translate(1025.65,498) rotate(-90) scale(0.893,1)" text-anchor="end" class="xl">Instructions for a Wet Dream</text>
<line x1="1034.41" x2="1034.41" y1="487.3" y2="493.2" stroke="#d0d0d0" stroke-width="1"/>
<text transform="translate(1037.91,498) rotate(-90) scale(0.893,1)" text-anchor="end" class="xl">Little Devil</text>
<line x1="1046.67" x2="1046.67" y1="487.3" y2="493.2" stroke="#d0d0d0" stroke-width="1"/>
<text transform="translate(1050.17,498) rotate(-90) scale(0.893,1)" text-anchor="end" class="xl">Devil Marin Pillow Humping</text>
<line x1="1058.94" x2="1058.94" y1="487.3" y2="493.2" stroke="#d0d0d0" stroke-width="1"/>
<text transform="translate(1062.44,498) rotate(-90) scale(0.893,1)" text-anchor="end" class="xl">Elf Barmaid</text>
<line x1="1071.20" x2="1071.20" y1="487.3" y2="493.2" stroke="#d0d0d0" stroke-width="1"/>
<text transform="translate(1074.70,498) rotate(-90) scale(0.893,1)" text-anchor="end" class="xl">Testing new Positions</text>
<line x1="1083.46" x2="1083.46" y1="487.3" y2="493.2" stroke="#d0d0d0" stroke-width="1"/>
<text transform="translate(1086.96,498) rotate(-90) scale(0.893,1)" text-anchor="end" class="xl">Girlfriend Sleeping With You</text>
<line x1="1095.72" x2="1095.72" y1="487.3" y2="493.2" stroke="#d0d0d0" stroke-width="1"/>
<text transform="translate(1099.22,498) rotate(-90) scale(0.893,1)" text-anchor="end" class="xl">You are my Halloween Treat</text>
<line x1="1107.98" x2="1107.98" y1="487.3" y2="493.2" stroke="#d0d0d0" stroke-width="1"/>
<text transform="translate(1111.48,498) rotate(-90) scale(0.893,1)" text-anchor="end" class="xl">Did you Miss me?</text>
<line x1="1120.25" x2="1120.25" y1="487.3" y2="493.2" stroke="#d0d0d0" stroke-width="1"/>
<text transform="translate(1123.75,498) rotate(-90) scale(0.893,1)" text-anchor="end" class="xl">Simple and Effective</text>
<line x1="1132.51" x2="1132.51" y1="487.3" y2="493.2" stroke="#d0d0d0" stroke-width="1"/>
<text transform="translate(1136.01,498) rotate(-90) scale(0.893,1)" text-anchor="end" class="xl">Warm me up, baby?</text>
<line x1="1144.77" x2="1144.77" y1="487.3" y2="493.2" stroke="#d0d0d0" stroke-width="1"/>
<text transform="translate(1148.27,498) rotate(-90) scale(0.893,1)" text-anchor="end" class="xl">Naughty Shorts</text>
<line x1="1157.03" x2="1157.03" y1="487.3" y2="493.2" stroke="#d0d0d0" stroke-width="1"/>
<text transform="translate(1160.53,498) rotate(-90) scale(0.893,1)" text-anchor="end" class="xl">Horny Test</text>
<line x1="1169.29" x2="1169.29" y1="487.3" y2="493.2" stroke="#d0d0d0" stroke-width="1"/>
<text transform="translate(1172.79,498) rotate(-90) scale(0.893,1)" text-anchor="end" class="xl">Stormy Night with a Vampire</text>
<line x1="1181.56" x2="1181.56" y1="487.3" y2="493.2" stroke="#d0d0d0" stroke-width="1"/>
<text transform="translate(1185.06,498) rotate(-90) scale(0.893,1)" text-anchor="end" class="xl">Needy Girlfriends Attacks You</text>
<line x1="1193.82" x2="1193.82" y1="487.3" y2="493.2" stroke="#d0d0d0" stroke-width="1"/>
<text transform="translate(1197.32,498) rotate(-90) scale(0.893,1)" text-anchor="end" class="xl">Moan in your Ears</text>
<line x1="1206.08" x2="1206.08" y1="487.3" y2="493.2" stroke="#d0d0d0" stroke-width="1"/>
<text transform="translate(1209.58,498) rotate(-90) scale(0.893,1)" text-anchor="end" class="xl">For my Boobs Lovers</text>
<line x1="1218.34" x2="1218.34" y1="487.3" y2="493.2" stroke="#d0d0d0" stroke-width="1"/>
<text transform="translate(1221.84,498) rotate(-90) scale(0.893,1)" text-anchor="end" class="xl">You are on Top of me</text>
<line x1="1230.60" x2="1230.60" y1="487.3" y2="493.2" stroke="#d0d0d0" stroke-width="1"/>
<text transform="translate(1234.10,498) rotate(-90) scale(0.893,1)" text-anchor="end" class="xl">Night Nurse</text>
<line x1="1242.87" x2="1242.87" y1="487.3" y2="493.2" stroke="#d0d0d0" stroke-width="1"/>
<text transform="translate(1246.37,498) rotate(-90) scale(0.893,1)" text-anchor="end" class="xl">Licking You</text>
<line x1="1255.13" x2="1255.13" y1="487.3" y2="493.2" stroke="#d0d0d0" stroke-width="1"/>
<text transform="translate(1258.63,498) rotate(-90) scale(0.893,1)" text-anchor="end" class="xl">Bunny Teasing You</text>
<line x1="1267.39" x2="1267.39" y1="487.3" y2="493.2" stroke="#d0d0d0" stroke-width="1"/>
<text transform="translate(1270.89,498) rotate(-90) scale(0.893,1)" text-anchor="end" class="xl">Bowsette Captured You</text>
<line x1="1279.65" x2="1279.65" y1="487.3" y2="493.2" stroke="#d0d0d0" stroke-width="1"/>
<text transform="translate(1283.15,498) rotate(-90) scale(0.893,1)" text-anchor="end" class="xl">Rainy Spring Night</text>
<line x1="1291.91" x2="1291.91" y1="487.3" y2="493.2" stroke="#d0d0d0" stroke-width="1"/>
<text transform="translate(1295.41,498) rotate(-90) scale(0.893,1)" text-anchor="end" class="xl">Drive-in Cinema</text>
<line x1="1304.18" x2="1304.18" y1="487.3" y2="493.2" stroke="#d0d0d0" stroke-width="1"/>
<text transform="translate(1307.68,498) rotate(-90) scale(0.893,1)" text-anchor="end" class="xl">Scratched my Thigh</text>
<line x1="1316.44" x2="1316.44" y1="487.3" y2="493.2" stroke="#d0d0d0" stroke-width="1"/>
<text transform="translate(1319.94,498) rotate(-90) scale(0.893,1)" text-anchor="end" class="xl">Take a Bath with me 2</text>
<line x1="1328.70" x2="1328.70" y1="487.3" y2="493.2" stroke="#d0d0d0" stroke-width="1"/>
<text transform="translate(1332.20,498) rotate(-90) scale(0.893,1)" text-anchor="end" class="xl">Teasing in Pink</text>
<line x1="1340.96" x2="1340.96" y1="487.3" y2="493.2" stroke="#d0d0d0" stroke-width="1"/>
<text transform="translate(1344.46,498) rotate(-90) scale(0.893,1)" text-anchor="end" class="xl">Shorter Than You</text>
<line x1="1353.22" x2="1353.22" y1="487.3" y2="493.2" stroke="#d0d0d0" stroke-width="1"/>
<text transform="translate(1356.72,498) rotate(-90) scale(0.893,1)" text-anchor="end" class="xl">Left or Right</text>
<line x1="1365.49" x2="1365.49" y1="487.3" y2="493.2" stroke="#d0d0d0" stroke-width="1"/>
<text transform="translate(1368.99,498) rotate(-90) scale(0.893,1)" text-anchor="end" class="xl">Camping Cozy Night</text>
<line x1="1377.75" x2="1377.75" y1="487.3" y2="493.2" stroke="#d0d0d0" stroke-width="1"/>
<text transform="translate(1381.25,498) rotate(-90) scale(0.893,1)" text-anchor="end" class="xl">Playing with my Yeti</text>
<line x1="1390.01" x2="1390.01" y1="487.3" y2="493.2" stroke="#d0d0d0" stroke-width="1"/>
<text transform="translate(1393.51,498) rotate(-90) scale(0.893,1)" text-anchor="end" class="xl">Feet and Booty</text>
<line x1="1402.27" x2="1402.27" y1="487.3" y2="493.2" stroke="#d0d0d0" stroke-width="1"/>
<text transform="translate(1405.77,498) rotate(-90) scale(0.893,1)" text-anchor="end" class="xl">On My Lap</text>
<line x1="1414.53" x2="1414.53" y1="487.3" y2="493.2" stroke="#d0d0d0" stroke-width="1"/>
<text transform="translate(1418.03,498) rotate(-90) scale(0.893,1)" text-anchor="end" class="xl">Romance in a Cabin</text>
<line x1="1426.80" x2="1426.80" y1="487.3" y2="493.2" stroke="#d0d0d0" stroke-width="1"/>
<text transform="translate(1430.30,498) rotate(-90) scale(0.893,1)" text-anchor="end" class="xl">Morning Triggers</text>
<line x1="1439.06" x2="1439.06" y1="487.3" y2="493.2" stroke="#d0d0d0" stroke-width="1"/>
<text transform="translate(1442.56,498) rotate(-90) scale(0.893,1)" text-anchor="end" class="xl">Naughty Nightmare</text>
<line x1="1451.32" x2="1451.32" y1="487.3" y2="493.2" stroke="#d0d0d0" stroke-width="1"/>
<text transform="translate(1454.82,498) rotate(-90) scale(0.893,1)" text-anchor="end" class="xl">Morning Motivation</text>
<line x1="1463.58" x2="1463.58" y1="487.3" y2="493.2" stroke="#d0d0d0" stroke-width="1"/>
<text transform="translate(1467.08,498) rotate(-90) scale(0.893,1)" text-anchor="end" class="xl">You're My English Teacher</text>
<line x1="1475.84" x2="1475.84" y1="487.3" y2="493.2" stroke="#d0d0d0" stroke-width="1"/>
<text transform="translate(1479.34,498) rotate(-90) scale(0.893,1)" text-anchor="end" class="xl">Mai is Calling You</text>
<line x1="1488.11" x2="1488.11" y1="487.3" y2="493.2" stroke="#d0d0d0" stroke-width="1"/>
<text transform="translate(1491.61,498) rotate(-90) scale(0.893,1)" text-anchor="end" class="xl">New Type of Ear Massage</text>
<line x1="1500.37" x2="1500.37" y1="487.3" y2="493.2" stroke="#d0d0d0" stroke-width="1"/>
<text transform="translate(1503.87,498) rotate(-90) scale(0.893,1)" text-anchor="end" class="xl">Will You Have Me Back</text>
<line x1="1512.63" x2="1512.63" y1="487.3" y2="493.2" stroke="#d0d0d0" stroke-width="1"/>
<text transform="translate(1516.13,498) rotate(-90) scale(0.893,1)" text-anchor="end" class="xl">Massage Stream</text>
<line x1="1524.89" x2="1524.89" y1="487.3" y2="493.2" stroke="#d0d0d0" stroke-width="1"/>
<text transform="translate(1528.39,498) rotate(-90) scale(0.893,1)" text-anchor="end" class="xl">Taking Care of You While You're S…</text>
<line x1="1537.15" x2="1537.15" y1="487.3" y2="493.2" stroke="#d0d0d0" stroke-width="1"/>
<text transform="translate(1540.65,498) rotate(-90) scale(0.893,1)" text-anchor="end" class="xl">When you are too anxious to fall a…</text>
<line x1="1549.42" x2="1549.42" y1="487.3" y2="493.2" stroke="#d0d0d0" stroke-width="1"/>
<text transform="translate(1552.92,498) rotate(-90) scale(0.893,1)" text-anchor="end" class="xl">A Night With a Maid Part 1</text>
<line x1="1561.68" x2="1561.68" y1="487.3" y2="493.2" stroke="#d0d0d0" stroke-width="1"/>
<text transform="translate(1565.18,498) rotate(-90) scale(0.893,1)" text-anchor="end" class="xl">Roomie Watching Anime With You</text>
<line x1="1573.94" x2="1573.94" y1="487.3" y2="493.2" stroke="#d0d0d0" stroke-width="1"/>
<text transform="translate(1577.44,498) rotate(-90) scale(0.893,1)" text-anchor="end" class="xl">Lil Puppy</text>
<line x1="1586.20" x2="1586.20" y1="487.3" y2="493.2" stroke="#d0d0d0" stroke-width="1"/>
<text transform="translate(1589.70,498) rotate(-90) scale(0.893,1)" text-anchor="end" class="xl">The Bookworm</text>
<line x1="1598.46" x2="1598.46" y1="487.3" y2="493.2" stroke="#d0d0d0" stroke-width="1"/>
<text transform="translate(1601.96,498) rotate(-90) scale(0.893,1)" text-anchor="end" class="xl">The Steampunk Physician</text>
<line x1="1610.73" x2="1610.73" y1="487.3" y2="493.2" stroke="#d0d0d0" stroke-width="1"/>
<text transform="translate(1614.23,498) rotate(-90) scale(0.893,1)" text-anchor="end" class="xl">Experimenting sounds with my mic</text>
<line x1="1622.99" x2="1622.99" y1="487.3" y2="493.2" stroke="#d0d0d0" stroke-width="1"/>
<text transform="translate(1626.49,498) rotate(-90) scale(0.893,1)" text-anchor="end" class="xl">Roxy Cheers You Up</text>
<line x1="1635.25" x2="1635.25" y1="487.3" y2="493.2" stroke="#d0d0d0" stroke-width="1"/>
<text transform="translate(1638.75,498) rotate(-90) scale(0.893,1)" text-anchor="end" class="xl">Yoga ASMR Session With Me</text>
<text x="862.6" y="673" text-anchor="middle" class="at" style="font-size:12.5px">Release Order</text>
<text transform="translate(35,272.5) rotate(-90)" text-anchor="middle" class="at" style="font-size:12.5px" textLength="119.5" lengthAdjust="spacing">Slip Frequency</text>
<rect x="700" y="39.5" width="11" height="3" fill="#4a7dcb"/>
<text x="719" y="45.5" class="lg" textLength="78" lengthAdjust="spacing">Nip Slip</text>
<rect x="810" y="39.5" width="11" height="3" fill="#4b962e"/>
<text x="829" y="45.5" class="lg" textLength="103.5" lengthAdjust="spacing">Asshole Slip</text>
<text transform="translate(1648,30.5) scale(0.924,1)" text-anchor="end" class="wm">fappeningbook.com</text>
</svg></body></html>
